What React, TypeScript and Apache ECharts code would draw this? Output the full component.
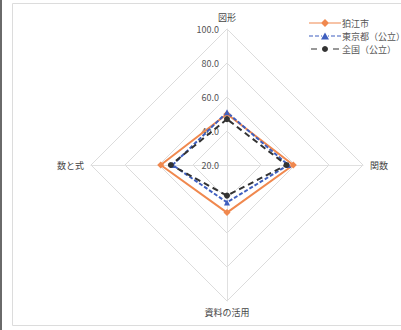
import React, { useEffect, useRef } from "react";
import * as echarts from "echarts";

const indicatorNames = ["図形", "数と式", "資料の活用", "関数"];
const seriesNames = ["狛江市", "東京都（公立）", "全国（公立）"];
const komaeValues = [50, 59, 48, 59];
const tokyoValues = [51, 52, 42, 56];
const zenkokuValues = [47, 53, 38, 55];
const axisMin = 20;
const axisMax = 100;

const FONT = "'Noto Sans CJK JP', 'Noto Sans', sans-serif";
const ORANGE = "#f0884e";
const BLUE = "#3f5fbf";
const BLACK = "#333333";

// legend icons: 32 x 8 boxes
const iconSolidDiamond =
  "path://M0 3.4H32V4.6H0Z M16 0L20 4L16 8L12 4Z";
const iconDashTriangle =
  "path://M0 3.4H4V4.6H0Z M6 3.4H10V4.6H6Z M12 3.4H13V4.6H12Z M16 0.5L20 7.5H12Z M19 3.4H20V4.6H19Z M22 3.4H26V4.6H22Z M28 3.4H32V4.6H28Z M0 0H0.01V8H0Z M31.99 0H32V8H31.99Z";
const iconDashCircle =
  "path://M2 3.4H8V4.6H2Z M16 1A3 3 0 1 1 15.99 1Z M24 3.4H30V4.6H24Z M0 0H0.01V8H0Z M31.99 0H32V8H31.99Z";

export default function App() {
  const ref = useRef<HTMLDivElement>(null);
  useEffect(() => {
    if (!ref.current) return;
    const chart = echarts.init(ref.current, null, { renderer: "svg" });
    const indicator = indicatorNames.map((name, i) => ({
      name,
      min: axisMin,
      max: axisMax,
      ...(i === 0
        ? {
            axisLabel: {
              show: true,
              fontSize: 9,
              color: "#555",
              fontFamily: FONT,
              formatter: (v: number) => v.toFixed(1),
            },
          }
        : {}),
    }));
    chart.setOption({
      animation: false,
      backgroundColor: "#ffffff",
      graphic: [
        {
          type: "rect",
          shape: { x: 12.5, y: 3.5, width: 400, height: 322 },
          style: { fill: "none", stroke: "#dcdcdc", lineWidth: 1 },
          silent: true,
        },
        {
          type: "line",
          shape: { x1: 1, y1: 0, x2: 1, y2: 330 },
          style: { stroke: "#6a6a6a", lineWidth: 2 },
          silent: true,
        },
      ],
      legend: {
        orient: "vertical",
        left: 304,
        top: 13,
        itemWidth: 32,
        itemHeight: 8,
        itemGap: 3,
        selectedMode: false,
        textStyle: {
          fontSize: 9,
          lineHeight: 10,
          color: "#555",
          fontFamily: FONT,
          padding: [0, 0, 0, -4],
        },
        data: [
          { name: seriesNames[0], icon: iconSolidDiamond },
          { name: seriesNames[1], icon: iconDashTriangle },
          { name: seriesNames[2], icon: iconDashCircle },
        ],
      },
      radar: {
        center: [227, 165],
        radius: 136,
        startAngle: 90,
        shape: "polygon",
        splitNumber: 4,
        indicator,
        axisName: { color: "#444", fontSize: 9, fontFamily: FONT },
        nameGap: 7,
        splitArea: { show: false },
        splitLine: { lineStyle: { color: "#dcdcdc", width: 1 } },
        axisLine: { lineStyle: { color: "#e0e0e0", width: 1 } },
        axisLabel: { show: false },
      },
      series: [
        {
          type: "radar",
          symbolSize: 6,
          data: [
            {
              name: seriesNames[0],
              value: komaeValues,
              symbol: "diamond",
              symbolSize: 7,
              itemStyle: { color: ORANGE },
              lineStyle: { color: ORANGE, width: 2, type: "solid" },
            },
            {
              name: seriesNames[1],
              value: tokyoValues,
              symbol: "triangle",
              itemStyle: { color: BLUE },
              lineStyle: { color: BLUE, width: 2, type: [4, 2] },
            },
            {
              name: seriesNames[2],
              value: zenkokuValues,
              symbol: "circle",
              itemStyle: { color: BLACK },
              lineStyle: { color: BLACK, width: 2, type: [6, 4] },
            },
          ],
        },
      ],
    });
    return () => chart.dispose();
  }, []);
  return (
    <div
      ref={ref}
      style={{ position: "absolute", left: 0, top: 0, width: 401, height: 330 }}
    />
  );
}
